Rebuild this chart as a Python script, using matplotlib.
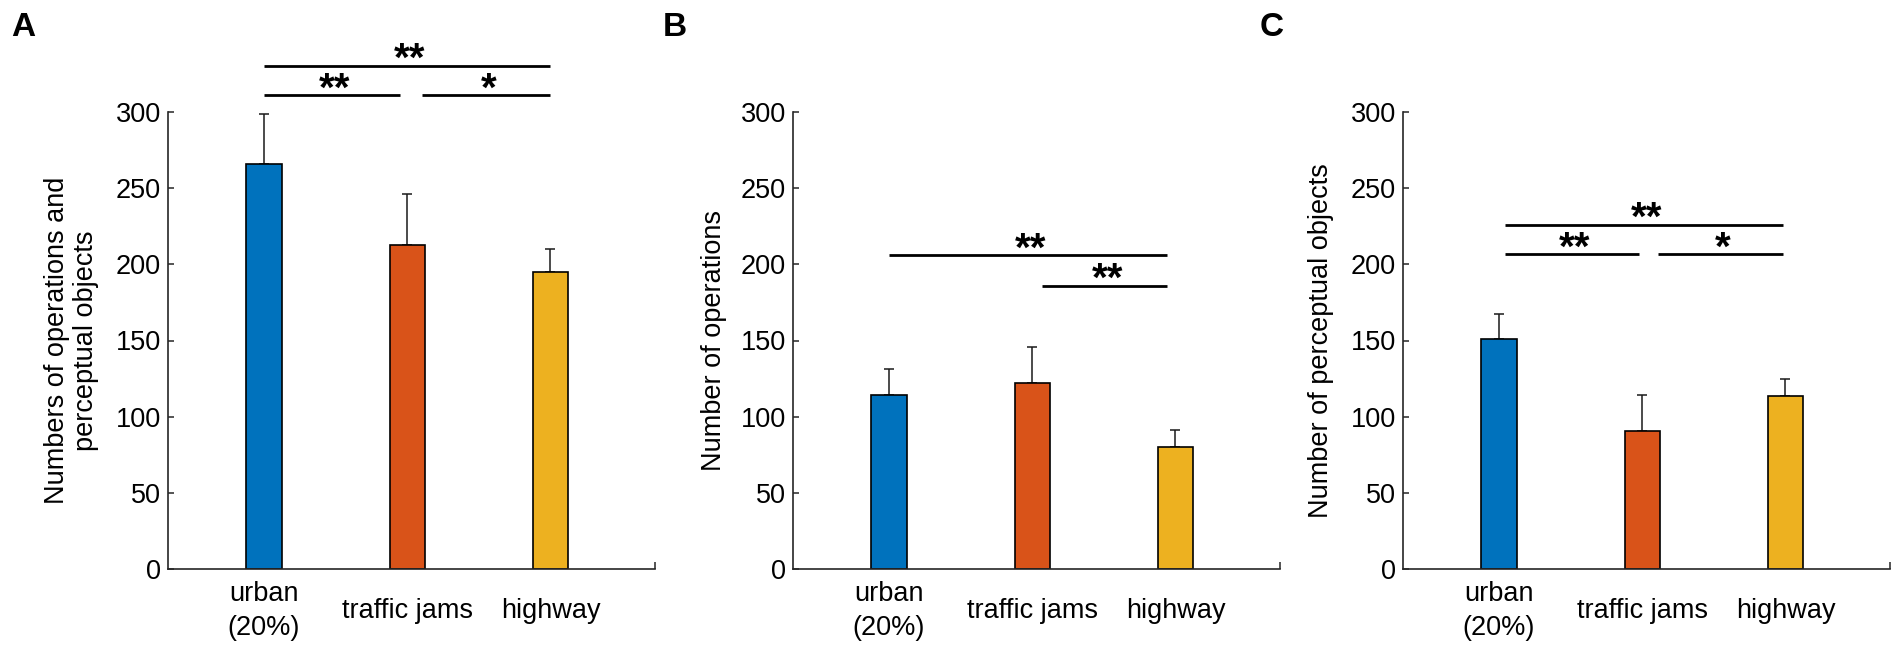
import matplotlib
matplotlib.use("Agg")
import matplotlib.pyplot as plt

plt.rcParams['font.family'] = ['Liberation Sans', 'DejaVu Sans']

categories = ['urban\n(20%)', 'traffic jams', 'highway']
bar_colors = ['#0072BD', '#D95319', '#EDB120']

# A: operations + perceptual objects
total_mean = [266, 213, 195]
total_err = [33, 33, 15]
# B: operations
oper_mean = [114.5, 122, 80]
oper_err = [16.5, 23.5, 11]
# C: perceptual objects
perc_mean = [151, 90.5, 113.5]
perc_err = [16.5, 23.5, 11]

ylabels = ['Numbers of operations and\nperceptual objects',
           'Number of operations',
           'Number of perceptual objects']
letters = ['A', 'B', 'C']

# significance bars: (from, to, height, stars)
sig_total = [(1.0, 3.0, 330.5, '**'), (1.0, 1.95, 311, '**'), (2.1, 3.0, 311, '*')]
sig_oper = [(1.0, 2.94, 206, '**'), (2.07, 2.94, 186, '**')]
sig_perc = [(1.04, 2.98, 226, '**'), (1.04, 1.98, 206.5, '**'), (2.11, 2.98, 206.5, '*')]

means = [total_mean, oper_mean, perc_mean]
errs = [total_err, oper_err, perc_err]
sigs = [sig_total, sig_oper, sig_perc]

W, H = 1901, 651
fig = plt.figure(figsize=(W / 100, H / 100), dpi=100)
lefts = [168, 793, 1403]
letter_x = [11, 663, 1260]
labelpads = [12, 10, 12]
x = [1, 2, 3]
xmax = 3.73

for i in range(3):
    ax = fig.add_axes([lefts[i] / W, 1 - 569 / H, 487 / W, (569 - 112) / H])
    ax.bar(x, means[i], width=0.245, color=bar_colors, edgecolor='black',
           linewidth=1.2, zorder=2)
    ax.errorbar(x, means[i], yerr=[[0, 0, 0], errs[i]], fmt='none',
                ecolor='#1a1a1a', elinewidth=1.1, capsize=3.6, capthick=1.1, zorder=1)
    ax.set_xlim(0.33, xmax)
    ax.set_ylim(0, 300)
    ax.set_yticks(range(0, 301, 50))
    ax.set_xticks(x)
    ax.set_xticklabels(categories)
    ax.set_xticks([xmax], minor=True)
    for s in ['top', 'right']:
        ax.spines[s].set_visible(False)
    for s in ['left', 'bottom']:
        ax.spines[s].set_linewidth(1.2)
        ax.spines[s].set_color('#262626')
    ax.tick_params(axis='y', direction='in', length=4, width=1.1, pad=5,
                   labelsize=19.5, color='#262626')
    ax.tick_params(axis='x', which='major', length=0, pad=30, labelsize=19.5)
    ax.tick_params(axis='x', which='minor', direction='in', length=5, width=1.1,
                   color='#262626')
    for lab in ax.get_xticklabels():
        lab.set_va('center')
        lab.set_linespacing(1.4)
    ax.set_ylabel(ylabels[i], fontsize=19.5, labelpad=labelpads[i], linespacing=1.15)

    for x1, x2, y, stars in sigs[i]:
        ax.plot([x1, x2], [y, y], color='black', lw=2, clip_on=False,
                solid_capstyle='butt')
        ax.text((x1 + x2) / 2 + 0.02, y - 3.5, stars, ha='center', va='baseline',
                fontsize=29, fontweight='bold', clip_on=False)

    fig.text(letter_x[i] / W, 1 - 12 / H, letters[i], fontsize=24,
             fontweight='bold', ha='left', va='top')

fig.savefig('out.png', dpi=100)
